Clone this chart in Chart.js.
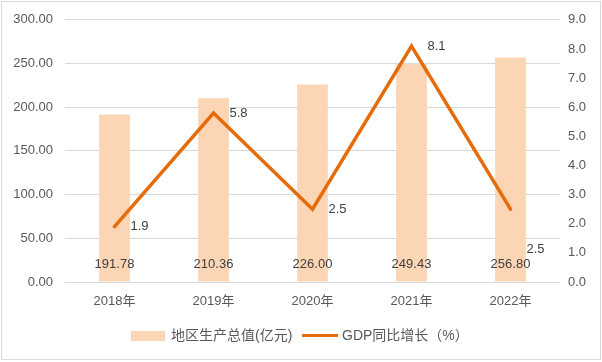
<!DOCTYPE html>
<html><head><meta charset="utf-8">
<script src="https://cdn.jsdelivr.net/npm/chart.js@4/dist/chart.umd.min.js"></script>
<style>
html,body{margin:0;padding:0;background:#fff;}
#wrap{position:relative;width:602px;height:362px;font-family:'Liberation Sans','Noto Sans CJK SC',sans-serif;}
#c{position:absolute;left:0;top:0;}
#frame{position:absolute;left:1px;top:1px;width:600px;height:359px;box-sizing:border-box;border:1px solid #d9d9d9;pointer-events:none;}
.lg{position:absolute;font-size:14px;color:#595959;line-height:16px;white-space:nowrap;}
.sw{position:absolute;}
</style></head>
<body>
<div id="wrap">
<canvas id="c" width="602" height="362"></canvas>
<div id="frame"></div>
<div class="sw" style="left:131px;top:331px;width:34px;height:10px;background:#FCD5B5"></div>
<div class="lg" id="lg1" style="left:171px;top:327px;"></div>
<div class="sw" style="left:302px;top:334px;width:36px;height:3px;background:#E46C0A"></div>
<div class="lg" id="lg2" style="left:342px;top:327px;"></div>
</div>
<script>
const categories = ['2018年','2019年','2020年','2021年','2022年'];
const gdpValues = [191.78, 210.36, 226.00, 249.43, 256.80];
const growthValues = [1.9, 5.8, 2.5, 8.1, 2.5];
const barName = '地区生产总值(亿元)';
const lineName = 'GDP同比增长（%）';
const lineLabelDy = [0, 0, 0, 0, 40];

document.getElementById('lg1').textContent = barName;
document.getElementById('lg2').textContent = lineName;

const FONT = "'Liberation Sans','Noto Sans CJK SC',sans-serif";

const labelPlugin = {
  id: 'vlabels',
  afterDatasetsDraw(chart) {
    const ctx = chart.ctx;
    ctx.save();
    ctx.font = '13px ' + FONT;
    ctx.fillStyle = '#404040';
    ctx.textBaseline = 'middle';
    const y0 = chart.scales.y.getPixelForValue(0);
    chart.getDatasetMeta(1).data.forEach((el, i) => {
      ctx.textAlign = 'center';
      ctx.fillText(gdpValues[i].toFixed(2), el.x, y0 - 18);
    });
    chart.getDatasetMeta(0).data.forEach((el, i) => {
      ctx.textAlign = 'left';
      ctx.fillText(growthValues[i].toFixed(1), el.x + 16, el.y + lineLabelDy[i]);
    });
    ctx.restore();
  }
};

new Chart(document.getElementById('c'), {
  type: 'bar',
  data: {
    labels: categories,
    datasets: [
      {
        type: 'line', label: lineName, data: growthValues, yAxisID: 'y2',
        borderColor: '#E46C0A', backgroundColor: '#E46C0A', borderWidth: 3.5,
        pointRadius: 0, tension: 0, order: 0, borderCapStyle: 'round', borderJoinStyle: 'miter'
      },
      {
        type: 'bar', label: barName, data: gdpValues, yAxisID: 'y',
        backgroundColor: '#FCD5B5', categoryPercentage: 1.0, barPercentage: 0.31, order: 1
      }
    ]
  },
  options: {
    responsive: false, animation: false, devicePixelRatio: 1,
    layout: { padding: { top: 19, left: 0, right: 0, bottom: 0 } },
    plugins: { legend: { display: false }, tooltip: { enabled: false } },
    scales: {
      x: {
        grid: { display: false, drawTicks: false }, border: { display: false },
        ticks: { color: '#595959', font: { size: 13, family: FONT }, padding: 12 },
        afterFit(s) { s.height = 80; }
      },
      y: {
        position: 'left', min: 0, max: 300,
        grid: { color: '#d9d9d9', drawTicks: false, lineWidth: 1 }, border: { display: false },
        ticks: { stepSize: 50, color: '#595959', font: { size: 13, family: FONT }, padding: 12,
          callback: v => Number(v).toFixed(2) },
        afterFit(s) { s.width = 65; }
      },
      y2: {
        position: 'right', min: 0, max: 9,
        grid: { display: false, drawTicks: false }, border: { display: false },
        ticks: { stepSize: 1, color: '#595959', font: { size: 13, family: FONT }, padding: 8,
          callback: v => Number(v).toFixed(1) },
        afterFit(s) { s.width = 42; }
      }
    }
  },
  plugins: [labelPlugin]
});
</script>
</body></html>
